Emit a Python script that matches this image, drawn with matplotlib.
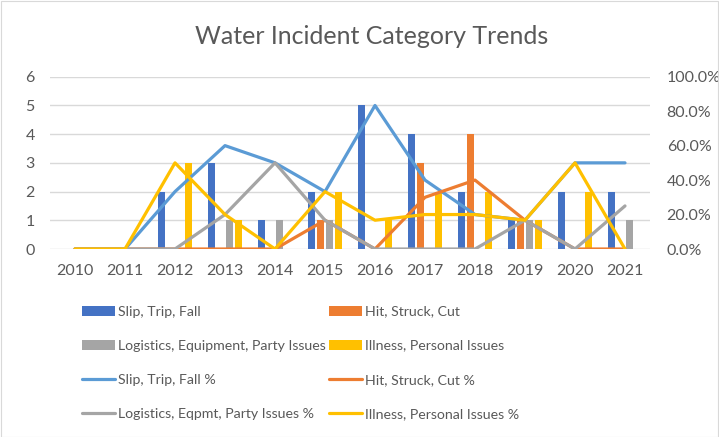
import matplotlib
matplotlib.use("Agg")
import matplotlib.pyplot as plt
import numpy as np
from matplotlib.ticker import PercentFormatter
from matplotlib.patches import Rectangle

plt.rcParams['font.family'] = ['Lato', 'DejaVu Sans']

years = [2010, 2011, 2012, 2013, 2014, 2015, 2016, 2017, 2018, 2019, 2020, 2021]
slip = [0, 0, 2, 3, 1, 2, 5, 4, 2, 1, 2, 2]
hit = [0, 0, 0, 0, 0, 1, 0, 3, 4, 1, 0, 0]
logistics = [0, 0, 0, 1, 1, 1, 0, 0, 0, 1, 0, 1]
illness = [0, 0, 3, 1, 0, 2, 1, 2, 2, 1, 2, 0]

slip_pct = [0, 0, 33.3, 60, 50, 33.3, 83.3, 40, 20, 16.7, 50, 50]
hit_pct = [0, 0, 0, 0, 0, 16.7, 0, 30, 40, 16.7, 0, 0]
log_pct = [0, 0, 0, 20, 50, 16.7, 0, 0, 0, 16.7, 0, 25]
ill_pct = [0, 0, 50, 20, 0, 33.3, 16.7, 20, 20, 16.7, 50, 0]

bar_labels = ["Slip, Trip, Fall", "Hit, Struck, Cut",
              "Logistics, Equipment, Party Issues", "Illness, Personal Issues"]
line_labels = ["Slip, Trip, Fall %", "Hit, Struck, Cut %",
               "Logistics, Eqpmt, Party Issues %", "Illness, Personal Issues %"]
bar_colors = ["#4472C4", "#ED7D31", "#A5A5A5", "#FFC000"]
line_colors = ["#5B9BD5", "#ED7D31", "#A5A5A5", "#FFC000"]

W, H = 719, 437
fig = plt.figure(figsize=(W / 100, H / 100), dpi=100)
fig.patches.append(Rectangle((0.5 / W, 0.5 / H), 1 - 1.5 / W, 1 - 1.5 / H, transform=fig.transFigure,
                             fill=False, edgecolor="#D9D9D9", lw=0.8))

ax = fig.add_axes([50 / W, 1 - 249 / H, 600 / W, (249 - 76.7) / H])
x = np.arange(len(years))
offsets = [-0.27, -0.09, 0.09, 0.27]
bw = 0.13
bar_handles = []
for vals, off, c, lab in zip([slip, hit, logistics, illness], offsets, bar_colors, bar_labels):
    b = ax.bar(x + off, vals, width=bw, color=c, label=lab, zorder=2)
    bar_handles.append(b)

ax.set_xlim(-0.5, len(years) - 0.5)
ax.set_ylim(0, 6)
ax.set_yticks(range(0, 7))
ax.set_xticks(x)
ax.set_xticklabels([str(y) for y in years])
ax.yaxis.grid(True, color="#D9D9D9", lw=1.0, zorder=0)
ax.set_axisbelow(True)
for s in ax.spines.values():
    s.set_visible(False)
ax.tick_params(axis='both', length=0, colors="#595959", labelsize=11.5)
ax.tick_params(axis='y', pad=11)
ax.tick_params(axis='x', pad=10.5)

ax2 = ax.twinx()
ax2.set_ylim(0, 100)
line_handles = []
for vals, c, lab in zip([slip_pct, hit_pct, log_pct, ill_pct], line_colors, line_labels):
    l, = ax2.plot(x, vals, color=c, lw=2.3, label=lab, solid_capstyle='round',
                  solid_joinstyle='round', zorder=3)
    line_handles.append(l)
ax2.set_yticks([0, 20, 40, 60, 80, 100])
ax2.yaxis.set_major_formatter(PercentFormatter(100, decimals=1))
for s in ax2.spines.values():
    s.set_visible(False)
ax2.tick_params(axis='y', length=0, colors="#595959", labelsize=11.5, pad=12)

fig.text(372 / W, 1 - 37 / H, "Water Incident Category Trends", ha='center', va='center',
         fontsize=18, color="#595959")

col1_h = [bar_handles[0], bar_handles[2], line_handles[0], line_handles[2]]
col1_l = [bar_labels[0], bar_labels[2], line_labels[0], line_labels[2]]
col2_h = [bar_handles[1], bar_handles[3], line_handles[1], line_handles[3]]
col2_l = [bar_labels[1], bar_labels[3], line_labels[1], line_labels[3]]
kw = dict(loc='upper left', frameon=False, fontsize=10.2, labelcolor="#595959",
          handlelength=2.3, handletextpad=0.25, labelspacing=1.56,
          borderaxespad=0, borderpad=0)
leg1 = fig.legend(col1_h, col1_l, bbox_to_anchor=(82 / W, 1 - 305.5 / H), **kw)
leg2 = fig.legend(col2_h, col2_l, bbox_to_anchor=(329 / W, 1 - 305.5 / H), **kw)

fig.savefig("out.png", dpi=100)
